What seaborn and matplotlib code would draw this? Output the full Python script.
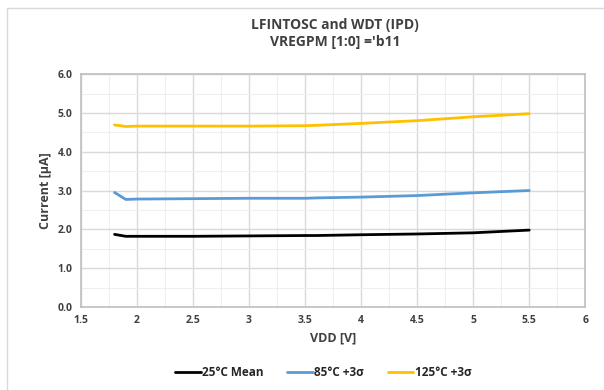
import matplotlib
matplotlib.use('Agg')
import matplotlib.pyplot as plt
import seaborn as sns
import pandas as pd
from matplotlib.ticker import MultipleLocator, FormatStrFormatter

# supply voltage [V]
vdd = [1.8, 1.9, 2.0, 2.5, 3.0, 3.5, 3.6, 4.0, 4.5, 5.0, 5.5]

# current [uA] per series
mean_25 = [1.87, 1.82, 1.82, 1.82, 1.83, 1.84, 1.84, 1.86, 1.88, 1.91, 1.98]
sigma_85 = [2.95, 2.77, 2.78, 2.79, 2.80, 2.80, 2.81, 2.83, 2.87, 2.94, 3.00]
sigma_125 = [4.69, 4.65, 4.66, 4.66, 4.66, 4.67, 4.68, 4.73, 4.80, 4.90, 4.98]

labels = ['25°C Mean', '85°C +3σ', '125°C +3σ']
colors = ['#000000', '#5B9BD5', '#FFC000']

df = pd.DataFrame({'VDD': vdd * 3,
                   'Current': mean_25 + sigma_85 + sigma_125,
                   'Series': [labels[0]] * len(vdd) + [labels[1]] * len(vdd) + [labels[2]] * len(vdd)})

sns.set_style('white')
plt.rcParams['font.family'] = ['Open Sans', 'DejaVu Sans']

fig = plt.figure(figsize=(6.04, 3.90), dpi=100)
ax = fig.add_axes([0.134, 0.213, 0.835, 0.597])

sns.lineplot(data=df, x='VDD', y='Current', hue='Series', palette=colors,
             linewidth=2, ax=ax, legend=True)

ax.set_xlim(1.5, 6)
ax.set_ylim(0, 6)
ax.xaxis.set_major_locator(MultipleLocator(0.5))
ax.xaxis.set_minor_locator(MultipleLocator(0.25))
ax.yaxis.set_major_locator(MultipleLocator(1.0))
ax.yaxis.set_minor_locator(MultipleLocator(0.5))
ax.set_xticklabels([f'{v:g}' for v in ax.get_xticks()])
ax.yaxis.set_major_formatter(FormatStrFormatter('%.1f'))
ax.grid(which='major', color='#d9d9d9', linewidth=1)
ax.grid(which='minor', color='#efefef', linewidth=0.8)
ax.set_axisbelow(True)
for s in ax.spines.values():
    s.set_color('#bfbfbf')
    s.set_linewidth(1.2)
ax.tick_params(labelsize=7.5, colors='#404040', length=0, pad=6)
for t in ax.get_xticklabels() + ax.get_yticklabels():
    t.set_fontweight('bold')

ax.set_xlabel('VDD [V]', fontsize=9, fontweight='bold', color='#404040')
ax.set_ylabel('Current [µA]', fontsize=9, fontweight='bold', color='#404040')

fig.text(0.555, 0.915, 'LFINTOSC and WDT (IPD)\nVREGPM [1:0] =\'b11', ha='center', va='center',
         fontsize=10, fontweight='bold', color='#404040', linespacing=1.3)

handles, lbls = ax.get_legend_handles_labels()
ax.legend(handles, lbls, loc='upper center', bbox_to_anchor=(0.48, -0.21), ncol=3,
          frameon=False, handlelength=2.2, handletextpad=0.1, columnspacing=2.0,
          prop={'weight': 'bold', 'size': 8.5})

fig.patches.append(plt.Rectangle((0.012, -0.01), 1.0, 0.99, transform=fig.transFigure,
                                 fill=False, edgecolor='#d9d9d9', linewidth=1))

fig.savefig('out.png', dpi=100)
